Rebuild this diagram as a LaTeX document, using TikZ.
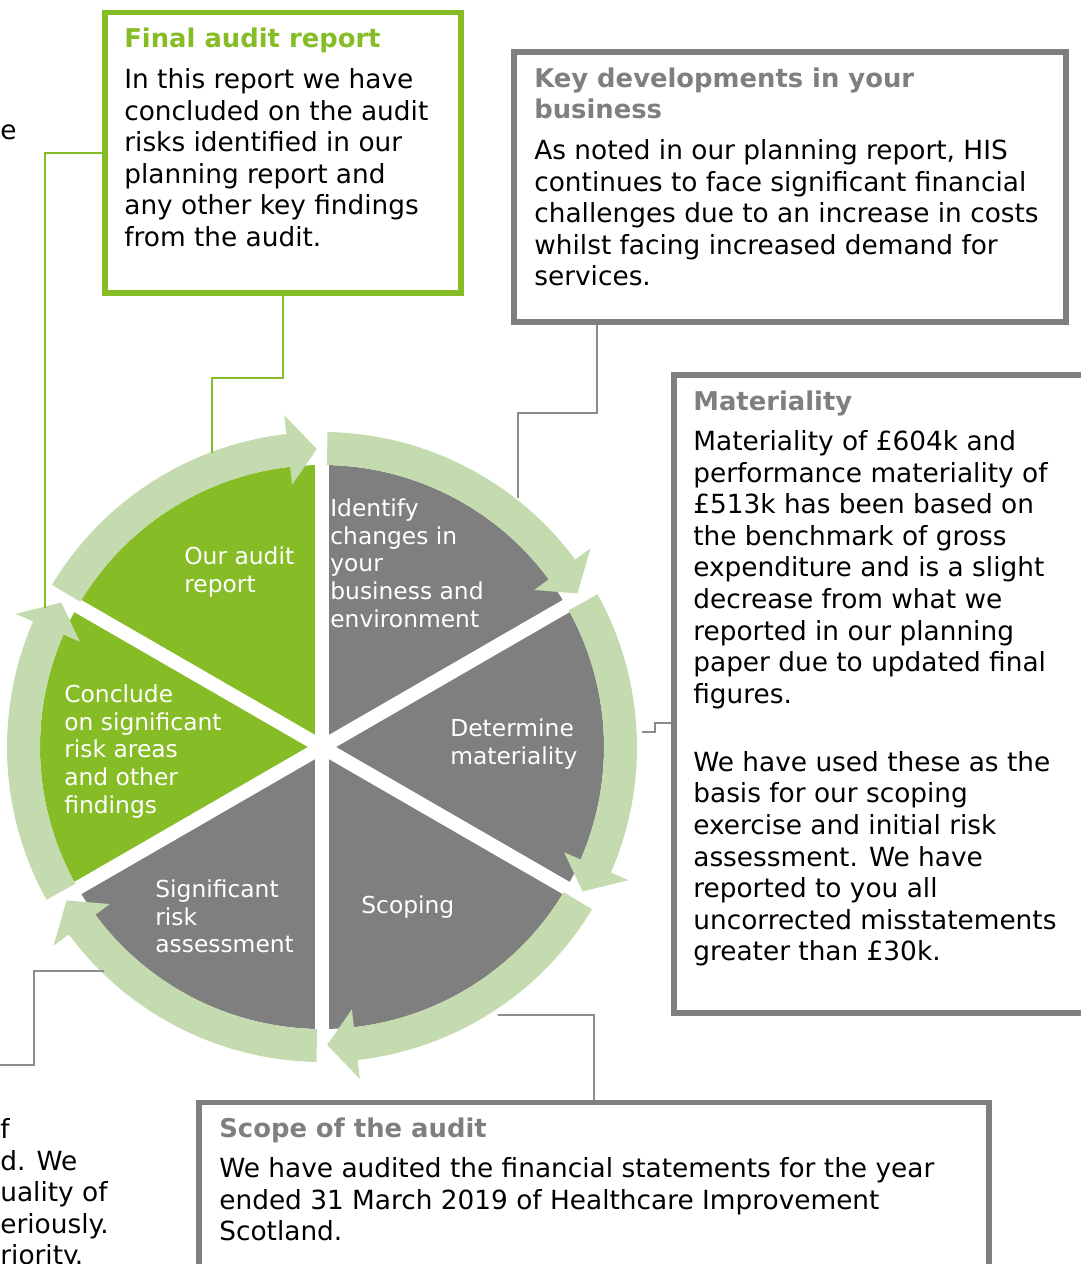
\documentclass[tikz,border=0pt]{standalone}
\usepackage{fontspec}
\setmainfont{DejaVu Sans}
\usepackage{tikz}
\usetikzlibrary{calc}
\tikzset{>=latex}
\definecolor{dgreen}{HTML}{86BC25}
\definecolor{lgreen}{HTML}{C3DBAE}
\definecolor{dgrey}{HTML}{7F7F7F}
\definecolor{lgrey}{HTML}{8C8C8C}
\tikzset{
  boxtext/.style={anchor=north west, align=left, inner sep=0pt, font=\fontsize{15pt}{18pt}\selectfont},
  boxtitle/.style={boxtext, font=\fontsize{14.7pt}{17.6pt}\selectfont\bfseries},
  wheeltext/.style={anchor=north west, align=left, inner sep=0pt, text=white, font=\fontsize{13.3pt}{15.9pt}\selectfont},
  greenbox/.style={draw=dgreen, line width=3pt, inner sep=0pt},
  greybox/.style={draw=dgrey, line width=3pt, inner sep=0pt},
  greenlink/.style={draw=dgreen, line width=1.2pt},
  greylink/.style={draw=lgrey, line width=1.2pt},
}

\begin{document}
\begin{tikzpicture}[x=0.02cm, y=0.02cm]
            \useasboundingbox (0,0) rectangle (1080,-1264);
            \coordinate (C) at (322,-747);
            \coordinate (ringA) at (212,-453);
            \coordinate (ringB) at (518,-498);
            \coordinate (ringD) at (642,-732);
            \coordinate (ringE) at (498,-1015);
            \coordinate (ringF) at (104,-971);
            \coordinate (ringG) at (45,-608);
            \coordinate (offW) at (-2,-1065);

            \foreach \a/\col in {90/dgrey,30/dgrey,-30/dgrey,-90/dgrey,150/dgreen,210/dgreen}
                \fill[\col] (C) -- ($(C)+(\a:282)$) arc[start angle=\a, end angle=\a-60, radius=282] -- cycle;
            \foreach \a in {90,30,-30,-90,-150,-210}
                \draw[white, line width=0.28cm] (C) -- ($(C)+(\a:290)$);
            \foreach \b in {150,90,30,-30,-90,-150}{
                \pgfmathsetmacro\ta{\b-1}
                \pgfmathsetmacro\tp{\b-59}
                \pgfmathsetmacro\th{\b-53.5}
                \fill[lgreen] ($(C)+(\ta:315)$) arc[start angle=\ta, end angle=\th, radius=315]
                    -- ($(C)+(\th:334)$) -- ($(C)+(\tp:298)$) -- ($(C)+(\th:264)$)
                    -- ($(C)+(\th:282)$) arc[start angle=\th, end angle=\ta, radius=282] -- cycle;
            }

            \node[wheeltext] (ouraudit) at (184,-546) {Our audit\\report};
            \node[wheeltext] (identify) at (330,-498) {Identify\\changes in\\your\\business and\\environment};
            \node[wheeltext] (determine) at (450,-718) {Determine\\materiality};
            \node[wheeltext] (scoping) at (361,-895) {Scoping};
            \node[wheeltext] (sigrisk) at (155,-879) {Significant\\risk\\assessment};
            \node[wheeltext] (conclude) at (64,-684) {Conclude\\on significant\\risk areas\\and other\\findings};

            \node[greenbox, minimum width=7.12cm, minimum height=5.61cm] (final) at (283,-152.75) {};
            \node[greybox, minimum width=11.04cm, minimum height=5.4cm] (key) at (790,-187) {};
            \node[greybox, minimum width=8.52cm, minimum height=12.76cm] (mat) at (887,-694) {};
            \node[greybox, minimum width=15.8cm, minimum height=3.95cm] (scope) at (594,-1201.25) {};

            \node[boxtitle, text=dgreen] (finaltitle) at (124,-28) {Final audit report};
            \node[boxtext] (finalbody) at (124,-68) {In this report we have\\concluded on the audit\\risks identified in our\\planning report and\\any other key findings\\from the audit.};
            \node[boxtitle, text=dgrey] (keytitle) at (534,-68) {Key developments in your\\business};
            \node[boxtext] (keybody) at (534,-139) {As noted in our planning report, HIS\\continues to face significant financial\\challenges due to an increase in costs\\whilst facing increased demand for\\services.};
            \node[boxtitle, text=dgrey] (mattitle) at (693,-391) {Materiality};
            \node[boxtext] (matbody) at (693,-430) {Materiality of £604k and\\performance materiality of\\£513k has been based on\\the benchmark of gross\\expenditure and is a slight\\decrease from what we\\reported in our planning\\paper due to updated final\\figures.\\[20.6pt]We have used these as the\\basis for our scoping\\exercise and initial risk\\assessment. We have\\reported to you all\\uncorrected misstatements\\greater than £30k.};
            \node[boxtitle, text=dgrey] (scopetitle) at (219,-1118) {Scope of the audit};
            \node[boxtext] (scopebody) at (219,-1157) {We have audited the financial statements for the year\\ended 31 March 2019 of Healthcare Improvement\\Scotland.};
            \node[boxtext] (lefttop) at (0,-124) {e};
            \node[boxtext] (leftbottom) at (0,-1118) {f\\d. We\\uality of\\eriously.\\riority.};

            \draw[greenlink] (final.south) -- ++(0,-82) -| (ringA);
            \draw[greenlink] (final.west) -| (ringG);
            \draw[greylink] ([xshift=1.72cm]key.south west) -- ++(0,-88) -| (ringB);
            \draw[greylink] ([yshift=-0.58cm]mat.west) -- ++(-16,0) |- (ringD);
            \draw[greylink] (scope.north) |- (ringE);
            \draw[greylink] (ringF) -- ++(-70,0) |- (offW);
        \end{tikzpicture}
\end{document}
